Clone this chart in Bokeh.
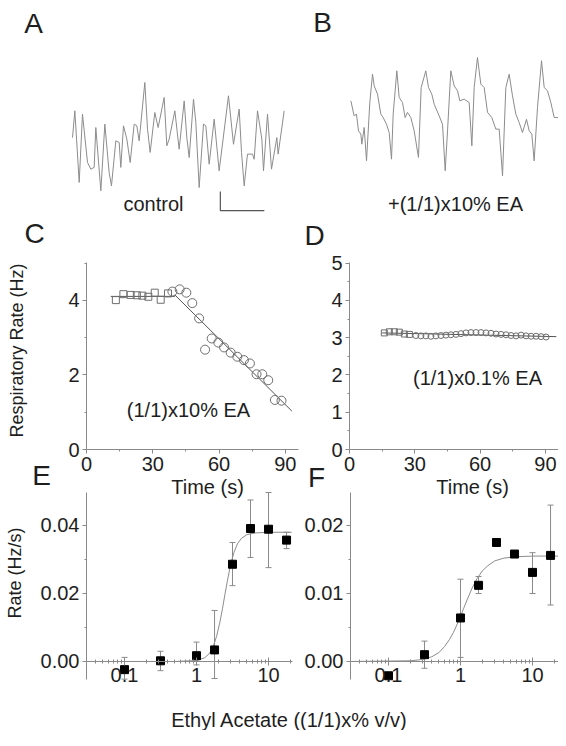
import math
from bokeh.plotting import figure
from bokeh.models import (Label, FixedTicker, Whisker, TeeHead, ColumnDataSource,
                          Range1d, CustomJSTickFormatter, LinearAxis, LogAxis, LogScale)
from bokeh.embed import file_html
from bokeh.resources import INLINE

# ---------------- data ----------------
# A: control respiratory trace (time s, amplitude a.u.)
a_t = [0.00, 0.053, 0.152, 0.227, 0.341, 0.417, 0.492, 0.530, 0.644, 0.735, 0.833, 0.886,
       0.985, 1.061, 1.098, 1.159, 1.235, 1.311, 1.402, 1.462, 1.515, 1.644, 1.705, 1.765,
       1.871, 1.947, 2.083, 2.144, 2.197, 2.326, 2.424, 2.538, 2.598, 2.652, 2.750, 2.803,
       2.879, 2.977, 3.030, 3.106, 3.220, 3.333, 3.545, 3.659, 3.788, 3.841, 3.902, 3.977,
       4.091, 4.129, 4.205, 4.303, 4.341, 4.432, 4.523, 4.644, 4.674, 4.811]
a_v = [2.89, 4.30, 0.53, 4.12, 1.58, 1.23, 1.32, 3.42, 0.09, 3.60, 1.05, 0.35,
       2.72, 2.63, 1.32, 3.51, 2.81, 1.58, 3.60, 3.51, 2.72, 5.79, 3.33, 2.11,
       4.21, 3.42, 5.00, 2.46, 2.81, 4.30, 2.28, 4.82, 2.89, 1.84, 4.91, 3.68,
       0.26, 3.60, 3.51, 1.49, 3.86, 1.14, 5.09, 2.54, 4.39, 2.11, 0.35, 2.02,
       2.02, 1.75, 4.30, 2.81, 1.14, 4.12, 1.23, 2.89, 2.02, 4.30]
# B: trace with (1/1)x10% EA
b_t = [0.008, 0.083, 0.136, 0.182, 0.235, 0.258, 0.311, 0.364, 0.439, 0.500, 0.538, 0.614,
       0.689, 0.742, 0.818, 0.879, 0.932, 0.970, 1.053, 1.106, 1.182, 1.242, 1.295, 1.371,
       1.447, 1.545, 1.606, 1.712, 1.773, 1.848, 1.902, 2.015, 2.091, 2.152, 2.205, 2.280,
       2.356, 2.432, 2.485, 2.583, 2.697, 2.758, 2.811, 2.886, 2.962, 3.038, 3.114, 3.212,
       3.303, 3.379, 3.455, 3.530, 3.606, 3.682, 3.758, 3.833, 3.909, 4.000, 4.061, 4.121,
       4.174, 4.250, 4.341, 4.402, 4.477, 4.553, 4.629, 4.727]
b_v = [3.93, 3.14, 3.23, 2.35, 2.18, 1.65, 2.53, 0.77, 3.84, 5.33, 4.72, 4.28,
       3.23, 3.05, 2.70, 2.26, 0.86, 3.23, 5.51, 4.11, 3.84, 3.05, 3.32, 3.05,
       2.35, 0.95, 4.63, 5.51, 4.63, 4.28, 3.75, 3.14, 2.70, 0.25, 2.35, 5.51,
       4.72, 4.46, 3.93, 4.02, 3.84, 1.56, 4.63, 6.21, 4.81, 4.63, 3.32, 3.05,
       2.44, 2.44, -0.02, 4.63, 5.33, 4.19, 3.23, 2.79, 2.26, 2.96, 2.35, 2.18,
       0.77, 3.58, 6.04, 4.63, 4.46, 3.84, 3.05, 3.05]
# scale bar: 1 s horizontal, 1 a.u. vertical
scale_bar_t = [3.36, 3.36, 4.36]
scale_bar_v = [0.05, -0.95, -0.95]

# C: respiratory rate, (1/1)x10% EA
c_ctrl_t = [13.3, 16.7, 20.0, 22.8, 25.3, 28.0, 30.9, 33.6, 36.9]
c_ctrl_r = [4.01, 4.17, 4.15, 4.14, 4.13, 4.10, 4.21, 4.02, 4.19]
c_ea_t = [38.9, 42.2, 45.2, 47.9, 51.0, 53.7, 56.7, 59.7, 62.3, 65.3, 68.3, 71.3,
          74.0, 77.0, 79.6, 82.3, 85.3, 88.3]
c_ea_r = [4.24, 4.30, 4.21, 3.93, 3.52, 2.68, 2.98, 2.87, 2.74, 2.60, 2.49, 2.40,
          2.31, 2.02, 2.02, 1.86, 1.33, 1.31]
c_fit1_t = [11, 40]
c_fit1_r = [4.11, 4.11]
c_fit2_t = [40, 93]
c_fit2_r = [4.15, 1.03]

# D: respiratory rate, (1/1)x0.1% EA
d_ctrl_t = [16.0, 18.3, 20.6, 22.9, 25.2, 27.5]
d_ctrl_r = [3.13, 3.16, 3.16, 3.15, 3.10, 3.09]
d_ea_t = [30.5, 32.8, 35.1, 37.4, 39.7, 42.0, 44.3, 46.6, 48.9, 51.2, 53.5, 55.8, 58.1,
          60.4, 62.7, 65.0, 67.3, 69.6, 71.9, 74.2, 76.5, 78.8, 81.1, 83.4, 85.7, 88.0, 90.3]
d_ea_r = [3.06, 3.05, 3.05, 3.04, 3.05, 3.06, 3.07, 3.08, 3.09, 3.11, 3.13, 3.14, 3.14,
          3.14, 3.13, 3.12, 3.10, 3.09, 3.08, 3.06, 3.05, 3.07, 3.05, 3.04, 3.04, 3.03, 3.02]
d_fit_t = [15, 95]
d_fit_r = [3.13, 3.03]

# E, F: dose response (concentration (1/1)x% v/v)
conc = [0.1, 0.316, 1.0, 1.78, 3.16, 5.62, 10.0, 17.8]
e_rate = [-0.0024, 0.0002, 0.0017, 0.0034, 0.0286, 0.0391, 0.0389, 0.0357]
e_upper = [0.0012, 0.0030, 0.0057, 0.0150, 0.0350, 0.0475, 0.0497, 0.0380]
e_lower = [-0.0052, -0.0027, -0.0010, -0.0050, 0.0223, 0.0306, 0.0276, 0.0332]
e_fit_x = [0.03, 0.5, 1.0, 1.3, 1.5, 1.7, 1.9, 2.1, 2.3, 2.5, 2.7, 3.0, 3.3, 3.7,
           4.2, 5.0, 6.5, 10.0, 21.0]
e_fit_y = [0.0, 0.0, 0.00025, 0.0011, 0.0023, 0.0043, 0.0074, 0.0113, 0.0157, 0.0201,
           0.0240, 0.0288, 0.0320, 0.0346, 0.0362, 0.0373, 0.0378, 0.0380, 0.0380]
f_rate = [-0.0021, 0.0010, 0.0064, 0.0112, 0.0175, 0.0158, 0.0131, 0.0156]
f_upper = [None, 0.0030, 0.0121, 0.0125, None, None, 0.0160, 0.0230]
f_lower = [None, -0.0010, 0.0006, 0.0100, None, None, 0.0100, 0.0083]
f_fit_x = [0.03, 0.2, 0.3, 0.4, 0.5, 0.6, 0.7, 0.8, 0.9, 1.0, 1.1, 1.25, 1.45, 1.7,
           2.0, 2.4, 3.0, 4.0, 6.0, 10.0, 23.0]
f_fit_y = [0.0, 0.0001, 0.0003, 0.0007, 0.0013, 0.0022, 0.0032, 0.0043, 0.0055, 0.0066,
           0.00775, 0.0092, 0.0108, 0.0122, 0.0133, 0.0141, 0.0148, 0.0152, 0.0154,
           0.0155, 0.0155]

# ---------------- style / layout ----------------
FONT = "Liberation Sans"
TXT = "#1e1e1e"
AX = "#8a8a8a"
TRACE = "#8c8c8c"
MK = "#6e6e6e"
FITC = "#555555"

W, H = 558, 730
X0, X1 = 8, 566          # page pixel coordinates of the canvas
Y_BOT, Y_TOP = 738, 8

p = figure(width=W, height=H, x_range=Range1d(X0, X1), y_range=Range1d(Y_BOT, Y_TOP),
           x_axis_location=None, y_axis_location=None, min_border=0,
           output_backend="svg", toolbar_location=None)
p.outline_line_color = None
p.background_fill_color = "white"
p.border_fill_color = "white"
p.grid.visible = False
p.grid.grid_line_color = None


def span_range(d0, d1, s0, s1, S0, S1, log=False):
    """range whose data d0..d1 lands on pixel s0..s1 when the canvas spans S0..S1"""
    if log:
        d0, d1 = math.log10(d0), math.log10(d1)
    k = (d1 - d0) / (s1 - s0)
    a, b = d0 + (S0 - s0) * k, d0 + (S1 - s0) * k
    if log:
        a, b = 10 ** a, 10 ** b
    return Range1d(a, b)


# panel boxes: (data lo, data hi) -> (pixel lo, pixel hi)
panels = {
    "a": ((0, 1), (80, 124), (0, 1), (200, 181), False),
    "b": ((0, 1), (358, 402), (0, 1), (183, 164), False),
    "c": ((0, 96), (94, 306), (0, 5.02), (457, 270), False),
    "d": ((0, 96), (357, 566), (0, 5.02), (457, 270), False),
    "e": ((0.02965, 21.53), (94, 300), (-0.0053, 0.0497), (687, 500), True),
    "f": ((0.02965, 22.96), (358, 566), (-0.00265, 0.02485), (687, 500), True),
}
xr, yr, xs = {}, {}, {}
for k, (xd, xb, yd, yb, lg) in panels.items():
    xr[k + "x"] = span_range(*xd, *xb, X0, X1, log=lg)
    yr[k + "y"] = span_range(*yd, *yb, Y_BOT, Y_TOP)
    if lg:
        xs[k + "x"] = LogScale()
p.extra_x_ranges = xr
p.extra_y_ranges = yr
p.extra_x_scales = xs


def R(k):
    return dict(x_range_name=k + "x", y_range_name=k + "y")


def label(x, y, text, size="20px", angle=0):
    p.add_layout(Label(x=x, y=y, text=text, text_font=FONT, text_font_size=size,
                       text_color=TXT, text_align="center", text_baseline="middle",
                       angle=angle))


def style_axis(ax):
    ax.axis_line_color = AX
    ax.major_tick_line_color = AX
    ax.minor_tick_line_color = AX
    ax.major_tick_out = 4
    ax.major_tick_in = 0
    ax.minor_tick_out = 2
    ax.minor_tick_in = 0
    ax.major_label_standoff = 3
    ax.major_label_text_font = FONT
    ax.major_label_text_font_size = "20px"
    ax.major_label_text_color = TXT


def add_axes(k, xticks, xminor, yticks, yminor, xloc, yloc, xbounds, ybounds,
             log=False, yfmt=None):
    if log:
        xa = LogAxis(**R(k))
        xa.formatter = CustomJSTickFormatter(code="return String(tick)")
    else:
        xa = LinearAxis(**R(k))
    xa.ticker = FixedTicker(ticks=xticks, minor_ticks=xminor)
    xa.fixed_location = xloc
    xa.bounds = xbounds
    style_axis(xa)
    if log:
        xa.major_tick_in = 4
        xa.minor_tick_in = 2
    p.add_layout(xa, "below")
    ya = LinearAxis(**R(k))
    ya.ticker = FixedTicker(ticks=yticks, minor_ticks=yminor)
    ya.fixed_location = yloc
    ya.bounds = ybounds
    if yfmt:
        ya.formatter = CustomJSTickFormatter(code=yfmt)
    style_axis(ya)
    p.add_layout(ya, "left")


# ---------------- A / B traces ----------------
p.line(a_t, a_v, line_color=TRACE, line_width=1, **R("a"))
p.line(scale_bar_t, scale_bar_v, line_color="#555555", line_width=1.2, **R("a"))
p.line(b_t, b_v, line_color=TRACE, line_width=1, **R("b"))

# ---------------- C ----------------
p.line(c_fit1_t, c_fit1_r, line_color=FITC, line_width=1, **R("c"))
p.line(c_fit2_t, c_fit2_r, line_color=FITC, line_width=1, **R("c"))
p.scatter(c_ctrl_t, c_ctrl_r, marker="square", size=7, fill_color=None, line_color=MK, **R("c"))
p.scatter(c_ea_t, c_ea_r, marker="circle", size=9, fill_color=None, line_color=MK, **R("c"))
add_axes("c", [0, 30, 60, 90], [15, 45, 75], [0, 2, 4], [1, 3, 5], 0, 0, (0, 96), (0, 5.02))

# ---------------- D ----------------
p.line(d_fit_t, d_fit_r, line_color=FITC, line_width=1, **R("d"))
p.scatter(d_ctrl_t, d_ctrl_r, marker="square", size=6, fill_color=None, line_color=MK, **R("d"))
p.scatter(d_ea_t, d_ea_r, marker="circle", size=6, fill_color=None, line_color=MK, **R("d"))
add_axes("d", [0, 30, 60, 90], [15, 45, 75], [0, 1, 2, 3, 4, 5],
         [0.5, 1.5, 2.5, 3.5, 4.5], 0, 0, (0, 96), (0, 5.02))

# ---------------- E / F ----------------
log_minor = [0.03, 0.04, 0.05, 0.06, 0.07, 0.08, 0.09,
             0.2, 0.3, 0.4, 0.5, 0.6, 0.7, 0.8, 0.9,
             2, 3, 4, 5, 6, 7, 8, 9, 20]


def dose(k, rate, upper, lower, fit_x, fit_y, yticks, yminor):
    xd, _, yd, _, _ = panels[k]
    p.line(fit_x, fit_y, line_color=TRACE, line_width=1, **R(k))
    xs_ = [c for c, u in zip(conc, upper) if u is not None]
    us = [u for u in upper if u is not None]
    ls = [v for v in lower if v is not None]
    src = ColumnDataSource(dict(x=xs_, upper=us, lower=ls))
    p.add_layout(Whisker(source=src, base="x", upper="upper", lower="lower",
                         line_color=AX, line_width=1,
                         upper_head=TeeHead(size=6, line_color=AX, line_width=1),
                         lower_head=TeeHead(size=6, line_color=AX, line_width=1), **R(k)))
    p.scatter(conc, rate, marker="square", size=8, color="black", **R(k))
    add_axes(k, [0.1, 1, 10], log_minor, yticks, yminor, 0, xd[0], xd, yd,
             log=True, yfmt="return tick.toFixed(2)")


dose("e", e_rate, e_upper, e_lower, e_fit_x, e_fit_y, [0, 0.02, 0.04], [0.01, 0.03])
dose("f", f_rate, f_upper, f_lower, f_fit_x, f_fit_y, [0, 0.01, 0.02], [0.005, 0.015])

# ---------------- texts (page pixel positions) ----------------
label(41, 31, "A", size="28px")
label(330, 30, "B", size="28px")
label(161, 211, "control")
label(463, 211, "+(1/1)x10% EA")
label(42, 241, "C", size="28px")
label(322, 243, "D", size="28px")
label(196, 417, "(1/1)x10% EA")
label(485, 385, "(1/1)x0.1% EA")
label(24, 358, "Respiratory Rate (Hz)", size="18px", angle=math.pi / 2)
label(215, 494, "Time (s)")
label(480, 494, "Time (s)")
label(49, 483, "E", size="28px")
label(324, 485, "F", size="28px")
label(22, 578, "Rate  (Hz/s)", size="18px", angle=math.pi / 2)
label(297, 727, "Ethyl Acetate ((1/1)x% v/v)")

open("out.html", "w").write(file_html(p, INLINE, "Respiratory rate"))
